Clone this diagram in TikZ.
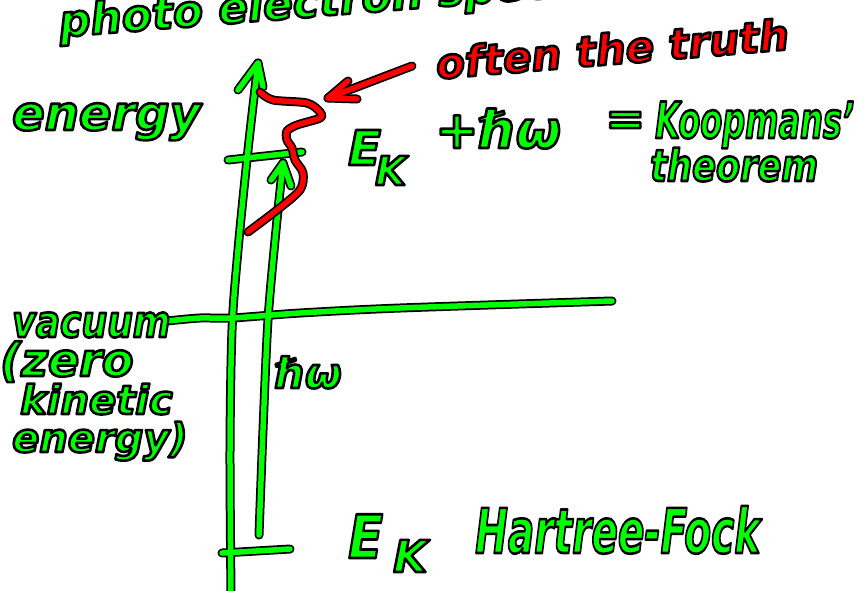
\documentclass[tikz,border=0pt]{standalone}
\usepackage{fontspec}
\setmainfont{DejaVu Sans}
\definecolor{hg}{RGB}{0,255,0}
\definecolor{hr}{RGB}{255,0,0}
\newcommand\hwtext[2]{\fontsize{#1}{#1}\selectfont\bfseries\itshape\special{pdf:literal direct 2 Tr 2.6 w 1 j 0 0 0 RG}#2\special{pdf:literal direct 0 Tr}}
\newcommand\greenstrokes[1]{%
  \draw[#1] plot[smooth] coordinates {(mtip) (248,150) (238,250) (232,330) (230,450) (mbot)};
  \draw[#1] (238,90) -- (mtip) -- (263,87);
  \draw[#1] plot[smooth] coordinates {(htip) (276,230) (268,320) (263,430) (hbot)};
  \draw[#1] (271,180) -- (htip) -- (291,186);
  \draw[#1] (228,160) -- (302,152);
  \draw[#1] (222,553) -- (290,549);
  \draw[#1] plot[smooth] coordinates {(vl) (200,318) (232,318) (300,313) (400,308) (vr)};
}
\newcommand\redstrokes[1]{%
  \draw[#1] (rtail) -- (rtip);
  \draw[#1] (348,81) -- (rtip) -- (357,99);
  \draw[#1] plot[smooth] coordinates {(260,92) (273,100) (307,103) (320,112) (320,118) (297,125) (287,131) (287,140) (292,148) (295,160) (303,173) (300,190) (277,210) (248,232)};
}
\begin{document}
\begin{tikzpicture}[x=1pt,y=-1pt,
  ol/.style={draw=black,line width=9pt,line cap=round,line join=round},
  gc/.style={draw=hg,line width=5.5pt,line cap=round,line join=round},
  rc/.style={draw=hr,line width=5.5pt,line cap=round,line join=round},
  tx/.style={inner sep=0pt,anchor=base west,text=hg},
  rtx/.style={inner sep=0pt,anchor=base west,text=hr}]
\useasboundingbox (0,0) rectangle (864,590);
\clip (0,0) rectangle (864,590);
\fill[white] (0,0) rectangle (864,590);
\coordinate (mtip) at (258,63);
\coordinate (mbot) at (231,594);
\coordinate (htip) at (283,163);
\coordinate (hbot) at (259,535);
\coordinate (vl) at (167,321);
\coordinate (vr) at (612,301);
\coordinate (rtail) at (412,66);
\coordinate (rtip) at (328,98);
\greenstrokes{ol}
\greenstrokes{gc}
\redstrokes{ol}
\redstrokes{rc}
\node[tx,rotate=4.6] (title) at (60,37) {\hwtext{44}{photo electron spectroscopy}};
\node[rtx,rotate=4.8] (often) at (437,79) {\hwtext{42}{often the truth}};
\node[tx] (energy) at (12,130) {\hwtext{48}{energy}};
\node[tx] (E1) at (348,165) {\hwtext{48}{E}};
\node[tx] (K1) at (375,185) {\hwtext{40}{K}};
\node[tx] (plus) at (435,148) {\hwtext{52}{+ℏω}};
\node[tx] (eq) at (605,135) {\hwtext{48}{=}};
\node[tx] (koop) at (655,138) {\scalebox{0.64}[1]{\hwtext{50}{Koopmans'}}};
\node[tx] (theorem) at (650,181) {\scalebox{0.8}[1]{\hwtext{44}{theorem}}};
\node[tx] (vacuum) at (12,337) {\scalebox{0.82}[1]{\hwtext{44}{vacuum}}};
\node[tx] (zero) at (0,376) {\hwtext{46}{(zero}};
\node[tx] (kinetic) at (20,414) {\hwtext{40}{kinetic}};
\node[tx] (energy2) at (12,452) {\hwtext{40}{energy)}};
\node[tx] (hw) at (275,388) {\hwtext{42}{ℏω}};
\node[tx] (E2) at (348,558) {\scalebox{0.85}[1]{\hwtext{60}{E}}};
\node[tx] (K2) at (393,572) {\hwtext{44}{K}};
\node[tx] (HF) at (475,553) {\scalebox{0.63}[1]{\hwtext{62}{Hartree-Fock}}};
\end{tikzpicture}
\end{document}
